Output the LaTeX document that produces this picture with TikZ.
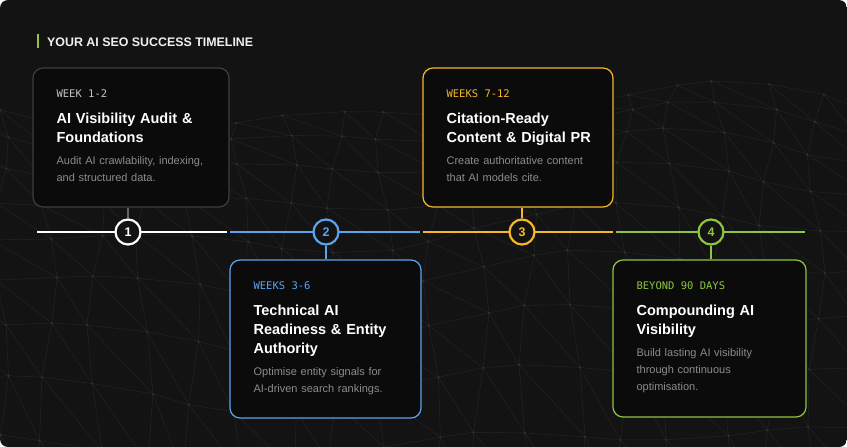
\documentclass[tikz,border=0pt]{standalone}
\usepackage{fontspec}
\setmainfont{Liberation Sans}
\newfontfamily\monofont{DejaVu Sans Mono}
\usetikzlibrary{positioning}

\definecolor{panel}{HTML}{131313}
\definecolor{cardfill}{HTML}{0B0B0B}
\definecolor{edgegray}{HTML}{3E3E3E}
\definecolor{weekgray}{HTML}{C4C4C4}
\definecolor{bodygray}{HTML}{8C8C8C}
\definecolor{skyblue}{HTML}{5CA4EE}
\definecolor{amber}{HTML}{F5B82A}
\definecolor{lime}{HTML}{8DC63F}
\definecolor{meshgray}{HTML}{242424}
\definecolor{meshdot}{HTML}{343434}

\begin{document}
\begin{tikzpicture}[x=1pt,y=-1pt,
    declare function={mx(\i,\j)=\j*48+9*sin(\i*67+\j*113);
                      my(\i,\j)=110+\i*(18+\i*3)+12*sin(\j*41+\i*31)+18*sin(\j*19);},
    mesh/.style={meshgray,line width=0.45pt},
    card/.style={draw=#1,fill=cardfill,rounded corners=10pt,line width=1.2pt,inner sep=0pt},
    tag/.style={anchor=base west,inner sep=0pt,font=\monofont\fontsize{10.5}{13}\selectfont},
    head/.style={anchor=base west,inner sep=0pt,text width=160pt,align=left,text=white,
                 font=\bfseries\fontsize{14.5}{19}\selectfont},
    blurb/.style={anchor=base west,inner sep=0pt,text width=160pt,align=left,text=bodygray,
                  font=\fontsize{11}{16.8}\selectfont},
    track/.style={draw=#1,line width=2.2pt},
    link/.style={draw=#1,line width=1.3pt},
    milestone/.style={circle,draw=#1,text=#1,fill=panel,line width=2.2pt,minimum size=25pt,
                      inner sep=0pt,font=\bfseries\fontsize{12.5}{12.5}\selectfont}]

  \useasboundingbox (0,0) rectangle (847,447);
  \fill[white] (0,0) rectangle (847,447);

  % background and network mesh
  \begin{scope}
    \clip[rounded corners=8pt] (0,0) rectangle (847,447);
    \fill[panel] (0,0) rectangle (847,447);
    \foreach \i in {0,...,9}{
      \foreach \j in {-1,...,18}{
        \draw[mesh] ({mx(\i,\j)},{my(\i,\j)}) -- ({mx(\i,\j+1)},{my(\i,\j+1)})
                    ({mx(\i,\j)},{my(\i,\j)}) -- ({mx(\i+1,\j)},{my(\i+1,\j)})
                    ({mx(\i,\j)},{my(\i,\j)}) -- ({mx(\i+1,\j+1)},{my(\i+1,\j+1)});
        \fill[meshdot] ({mx(\i,\j)},{my(\i,\j)}) circle (1.1pt);
      }
    }
  \end{scope}

  % heading
  \fill[lime] (37,34) rectangle (39,47.5);
  \node[anchor=base west,inner sep=0pt,text=white!94!black,
        font=\bfseries\fontsize{12.4}{14}\selectfont] (title) at (47,46) {YOUR AI SEO SUCCESS TIMELINE};

  % timeline
  \coordinate (s0) at (37,232);
  \coordinate (s1) at (227,232);
  \coordinate (s2) at (230,232);
  \coordinate (s3) at (420,232);
  \coordinate (s4) at (423,232);
  \coordinate (s5) at (613,232);
  \coordinate (s6) at (616,232);
  \coordinate (s7) at (805,232);
  \draw[track=white] (s0) -- (s1);
  \draw[track=skyblue] (s2) -- (s3);
  \draw[track=amber] (s4) -- (s5);
  \draw[track=lime] (s6) -- (s7);

  % cards
  \node[card=edgegray,minimum width=196pt,minimum height=139pt] (c1) at (131,137.5) {};
  \node[card=skyblue,minimum width=191pt,minimum height=158pt] (c2) at (325.5,339) {};
  \node[card=amber,minimum width=190pt,minimum height=139pt] (c3) at (518,137.5) {};
  \node[card=lime,minimum width=193pt,minimum height=157pt] (c4) at (709.5,338.5) {};

  \node[tag,text=weekgray] (w1) at ([shift={(24,30.5)}]c1.north west) {WEEK 1-2};
  \node[head] (h1) at ([shift={(0,25.5)}]w1.base west) {AI Visibility Audit \&\\Foundations};
  \node[blurb] (d1) at ([shift={(0,41)}]h1.base west) {Audit AI crawlability, indexing,\\and structured data.};

  \node[tag,text=skyblue] (w2) at ([shift={(24,30.5)}]c2.north west) {WEEKS 3-6};
  \node[head] (h2) at ([shift={(0,25.5)}]w2.base west) {Technical AI\\Readiness \& Entity\\Authority};
  \node[blurb] (d2) at ([shift={(0,60)}]h2.base west) {Optimise entity signals for\\AI-driven search rankings.};

  \node[tag,text=amber] (w3) at ([shift={(24,30.5)}]c3.north west) {WEEKS 7-12};
  \node[head] (h3) at ([shift={(0,25.5)}]w3.base west) {Citation-Ready\\Content \& Digital PR};
  \node[blurb] (d3) at ([shift={(0,41)}]h3.base west) {Create authoritative content\\that AI models cite.};

  \node[tag,text=lime] (w4) at ([shift={(24,30.5)}]c4.north west) {BEYOND 90 DAYS};
  \node[head] (h4) at ([shift={(0,25.5)}]w4.base west) {Compounding AI\\Visibility};
  \node[blurb] (d4) at ([shift={(0,41)}]h4.base west) {Build lasting AI visibility\\through continuous\\optimisation.};

  % milestones
  \node[milestone=white] (m1) at (128,232) {1};
  \node[milestone=skyblue] (m2) at (326,232) {2};
  \node[milestone=amber] (m3) at (522,232) {3};
  \node[milestone=lime] (m4) at (711,232) {4};

  \draw[link=edgegray!80!white] (m1) -- (m1 |- c1.south);
  \draw[link=skyblue] (m2) -- (m2 |- c2.north);
  \draw[link=amber] (m3) -- (m3 |- c3.south);
  \draw[link=lime] (m4) -- (m4 |- c4.north);
\end{tikzpicture}
\end{document}
